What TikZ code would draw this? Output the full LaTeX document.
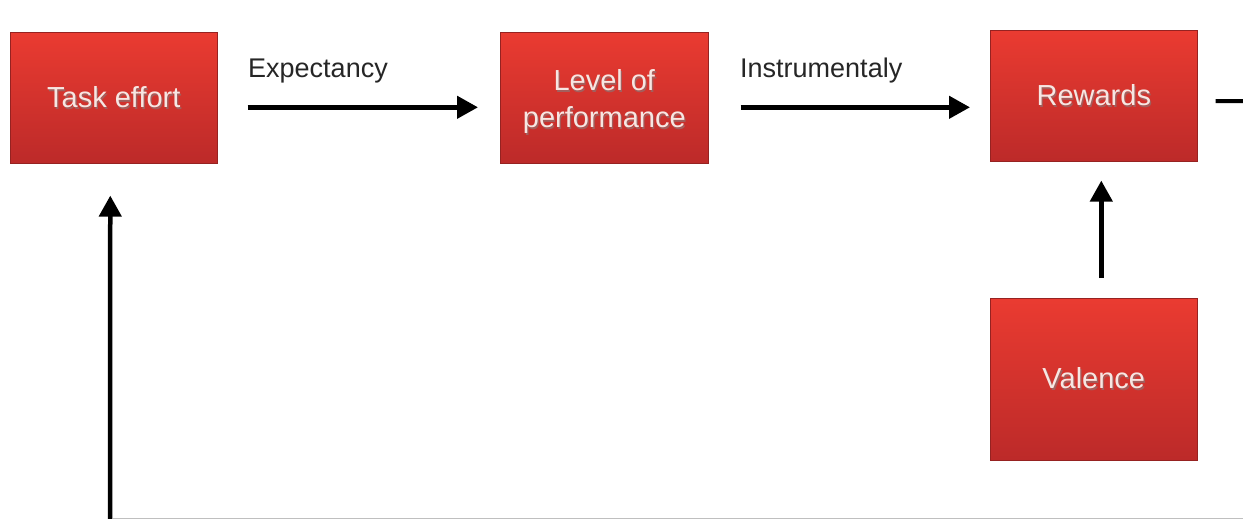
\documentclass[tikz,border=0pt]{standalone}
\usepackage{fontspec}
\setmainfont{Liberation Sans}
\usetikzlibrary{arrows.meta}
\definecolor{boxtop}{HTML}{EA3B31}
\definecolor{boxbot}{HTML}{BC2A29}
\definecolor{boxtext}{HTML}{F7E6E2}
\definecolor{boxshadow}{HTML}{7A1A18}
\newcommand\shtxt[1]{\leavevmode\rlap{\kern1.3pt\raisebox{-1.8pt}{\textcolor{boxshadow!70}{#1}}}#1}
\tikzset{
  redbox/.style={draw=boxbot!80!black, line width=0.6pt, top color=boxtop, bottom color=boxbot,
    inner sep=0pt, anchor=north west, text=boxtext, align=center,
    font=\fontsize{29}{37}\selectfont},
  arr/.style={line width=4.5pt, -{Triangle[length=21pt,width=22pt]}},
  lbl/.style={anchor=west, inner sep=0pt, font=\fontsize{27}{32}\selectfont, text=black!85}
}
\begin{document}
\begin{tikzpicture}[x=1pt,y=-1pt]
\useasboundingbox (0,0) rectangle (1243,519);
\node[redbox, minimum width=207pt, minimum height=131pt] (te) at (10,32) {\shtxt{Task effort}};
\node[redbox, minimum width=208pt, minimum height=131pt] (lp) at (500,32) {\rule{0pt}{31pt}\shtxt{Level of}\\\shtxt{performance}};
\node[redbox, minimum width=207pt, minimum height=131pt] (rw) at (990,30) {\shtxt{Rewards}};
\node[redbox, minimum width=207pt, minimum height=162pt] (va) at (990,298) {\shtxt{Valence}};
\node[lbl] (lexp) at (248,71) {Expectancy};
\node[lbl] (lins) at (740,71) {Instrumentaly};
\coordinate (bot) at (110,519);
\coordinate (rstub) at (1243,101);
\draw[arr, shorten <=30pt, shorten >=22pt] ([yshift=-9.5pt]te.east) -- ([yshift=-9.5pt]lp.west);
\draw[arr, shorten <=32pt, shorten >=20pt] ([yshift=-9.5pt]lp.east) -- ([yshift=-11.5pt]rw.west);
\draw[arr, shorten <=20pt, shorten >=19pt] ([xshift=7.5pt]va.north) -- ([xshift=7.5pt]rw.south);
\draw[arr, shorten >=32pt] (bot) -- ([xshift=-3.5pt]te.south);
\draw[line width=4pt, shorten <=18pt] ([yshift=-5.5pt]rw.east) -- (rstub);
\draw[black!25, line width=1pt] (113,518.5) -- (1243,518.5);
\end{tikzpicture}
\end{document}
